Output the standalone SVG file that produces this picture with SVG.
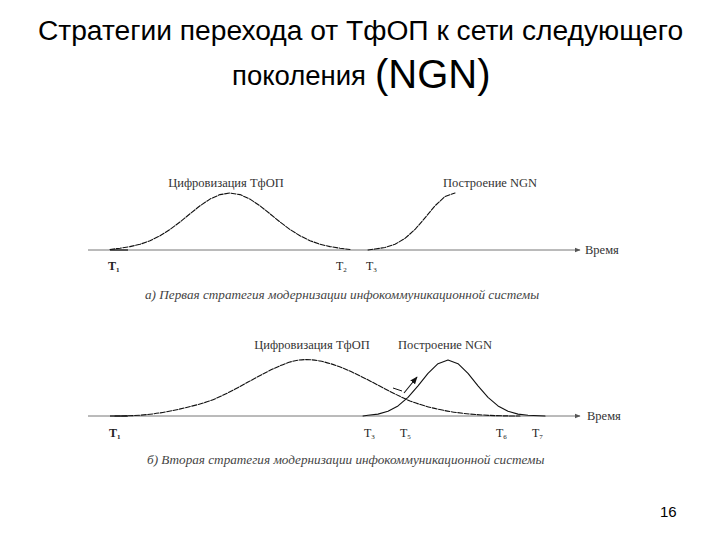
<svg xmlns="http://www.w3.org/2000/svg" width="720" height="540" viewBox="0 0 720 540">
<defs>
<style>
.title{font-family:"Liberation Sans",Arial,sans-serif;fill:#000}
.lbl{font-family:"Liberation Serif","Times New Roman",serif;font-size:12.5px;fill:#333}
.cap{font-family:"Liberation Serif","Times New Roman",serif;font-size:13.2px;font-style:italic;fill:#444}
.tl{font-family:"Liberation Serif","Times New Roman",serif;font-size:12px;fill:#222}
.sub{font-size:7px}
.axis{stroke:#777;stroke-width:1;fill:none}
.curve{stroke:#111;stroke-width:1.1;fill:none;stroke-linejoin:round;stroke-linecap:round}
.dash{stroke-dasharray:5 1.5}
</style>
<marker id="ah" viewBox="0 0 10 10" refX="9" refY="5" markerWidth="6" markerHeight="6" orient="auto">
<path d="M0,1 L10,5 L0,9 z" fill="#555"/>
</marker>
<marker id="ah2" viewBox="0 0 10 10" refX="9" refY="5" markerWidth="7" markerHeight="7" orient="auto">
<path d="M0,1 L10,5 L0,9 z" fill="#111"/>
</marker>
</defs>
<rect width="720" height="540" fill="#fff"/>

<g id="title">
<text class="title" x="360.5" y="40" font-size="28.2" text-anchor="middle">Стратегии перехода от ТфОП к сети следующего</text>
<text class="title" x="232" y="85" font-size="27.5">поколения</text>
<text class="title" x="375" y="88" font-size="40">(NGN)</text>
</g>

<g id="connectors">
<line class="axis" x1="88" y1="250" x2="580" y2="250" marker-end="url(#ah)"/>
<line class="axis" x1="88" y1="416" x2="580" y2="416" marker-end="url(#ah)"/>
<line x1="110" y1="250" x2="128" y2="250" stroke="#111" stroke-width="1.2"/>
<line x1="110" y1="416" x2="128" y2="416" stroke="#111" stroke-width="1.2"/>
<line x1="393" y1="388" x2="402" y2="391" stroke="#111" stroke-width="1"/>
<line x1="404" y1="393" x2="417" y2="377" stroke="#111" stroke-width="1.1" marker-end="url(#ah2)"/>
</g>

<g id="chart-a">
<polyline class="curve dash" points="110,249.5 120,248.2 130,246.6 140,244.3 150,240.7 160,235.8 170,229.5 180,222 190,213.8 200,205.8 210,199.1 220,194.6 230,193 240,194.6 250,199.1 260,205.8 270,213.8 280,222 290,229.5 300,235.8 310,240.7 320,244.3 330,246.6 340,248.2 350,249.5"/>
<polyline class="curve dash" points="368,250 375,249 385,247.5 395,244.3 405,238.4 415,229.5 425,217.9 435,205.8 445,196.5 455,193"/>
<text class="lbl" x="226" y="187" text-anchor="middle">Цифровизация ТфОП</text>
<text class="lbl" x="443" y="187">Построение NGN</text>
<text class="lbl" x="585" y="254">Время</text>
<text class="tl" x="108" y="270" font-weight="bold">T<tspan class="sub" dy="2">1</tspan></text>
<text class="tl" x="336" y="270">T<tspan class="sub" dy="2">2</tspan></text>
<text class="tl" x="366" y="270">T<tspan class="sub" dy="2">3</tspan></text>
<text class="cap" x="145" y="299">а) Первая стратегия модернизации инфокоммуникационной системы</text>
</g>

<g id="chart-b">
<path class="curve dash" d="M115,416 C150,416 170,412 200,404 C230,396 260,372 290,362 C300,359 310,359 320,361 C350,367 380,388 410,401 C440,412 470,416 520,416"/>
<polyline class="curve" points="363,416 368,415.3 378,414.1 388,411.3 398,405.9 408,397.3 418,385.8 428,373.4 438,363.7 448,360 458,363.7 468,373.4 478,385.8 488,397.3 498,405.9 508,411.3 518,414.1 528,415.3 545,416"/>
<text class="lbl" x="312" y="349" text-anchor="middle">Цифровизация ТфОП</text>
<text class="lbl" x="398" y="349">Построение NGN</text>
<text class="lbl" x="587" y="420">Время</text>
<text class="tl" x="109" y="437" font-weight="bold">T<tspan class="sub" dy="2">1</tspan></text>
<text class="tl" x="364" y="437">T<tspan class="sub" dy="2">3</tspan></text>
<text class="tl" x="400" y="437">T<tspan class="sub" dy="2">5</tspan></text>
<text class="tl" x="496" y="437">T<tspan class="sub" dy="2">6</tspan></text>
<text class="tl" x="532" y="437">T<tspan class="sub" dy="2">7</tspan></text>
<text class="cap" x="147" y="464">б) Вторая стратегия модернизации инфокоммуникационной системы</text>
</g>

<g id="page-number">
<text class="title" x="660" y="517" font-size="15" fill="#333">16</text>
</g>
</svg>
